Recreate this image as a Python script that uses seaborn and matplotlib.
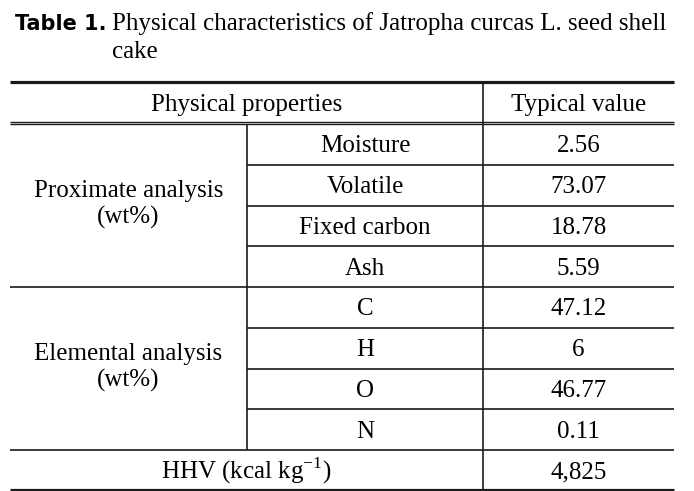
import matplotlib
matplotlib.use("Agg")
import matplotlib.pyplot as plt
import seaborn as sns

# table content
title_tag = "Table 1."
title_text = ["Physical characteristics of Jatropha curcas L. seed shell", "cake"]
header = ["Physical properties", "Typical value"]
groups = ["Proximate analysis\n(wt%)", "Elemental analysis\n(wt%)"]
items = [["Moisture", "Volatile", "Fixed carbon", "Ash"],
         ["C", "H", "O", "N"]]
values = [["2.56", "73.07", "18.78", "5.59"],
          ["47.12", "6", "46.77", "0.11"]]
hhv_label = r"HHV (kcal kg$^{\mathregular{-1}}$)"
hhv_value = "4,825"

sns.set_theme(style="white")
plt.rcParams['font.family'] = ['Liberation Serif', 'DejaVu Serif']
plt.rcParams['mathtext.fontset'] = 'custom'
plt.rcParams['mathtext.rm'] = 'Liberation Serif'
plt.rcParams['text.color'] = 'black'

fig = plt.figure(figsize=(6.94, 4.91), dpi=100)
ax = fig.add_axes([0, 0, 1, 1])
ax.set_xlim(0, 694)
ax.set_ylim(491, 0)
ax.axis('off')

# layout in pixel units
x0, x1, x2, x3 = 10, 247, 483, 674
top, head_bot = 82, 124
row_h = 40.75
fs = 18
dy = 2  # small downward nudge so glyphs sit like the original
lc = '#1a1a1a'

ax.text(15, 24, title_tag, fontsize=15, fontweight='bold', family='DejaVu Sans',
        va='center', ha='left', color='black')
ax.text(112, 22 + dy, title_text[0], fontsize=fs, va='center', ha='left', color='black')
ax.text(112, 50 + dy, title_text[1], fontsize=fs, va='center', ha='left', color='black')

# header
ax.hlines(top, x0, x3, color=lc, lw=2.3)
ax.hlines([head_bot - 2.5, head_bot], x0, x3, color=lc, lw=1.0)
ax.text((x0 + x2) / 2, (top + head_bot) / 2 + dy, header[0], fontsize=fs, ha='center', va='center')
ax.text((x2 + x3) / 2, (top + head_bot) / 2 + dy, header[1], fontsize=fs, ha='center', va='center')

row = 0
for g, (gname, gitems, gvals) in enumerate(zip(groups, items, values)):
    g_top = head_bot + row * row_h
    g_bot = g_top + len(gitems) * row_h
    ax.text((x0 + x1) / 2, (g_top + g_bot) / 2 - 1, gname, fontsize=fs, ha='center',
            va='center', linespacing=1.25)
    for i, (it, v) in enumerate(zip(gitems, gvals)):
        yc = head_bot + (row + 0.5) * row_h + dy
        ax.text((x1 + x2) / 2, yc, it, fontsize=fs, ha='center', va='center')
        ax.text((x2 + x3) / 2, yc, v, fontsize=fs, ha='center', va='center')
        row += 1
        yl = head_bot + row * row_h
        if i < len(gitems) - 1:
            ax.hlines(yl, x1, x3, color=lc, lw=1.2)
        else:
            ax.hlines(yl, x0, x3, color=lc, lw=1.2)

body_bot = head_bot + row * row_h
bottom = body_bot + row_h - 0.5
ax.vlines(x1, head_bot, body_bot, color=lc, lw=1.2)
ax.vlines(x2, top, bottom, color=lc, lw=1.2)
ax.text((x0 + x2) / 2, (body_bot + bottom) / 2 + dy - 1, hhv_label, fontsize=fs, ha='center', va='center')
ax.text((x2 + x3) / 2, (body_bot + bottom) / 2 + dy, hhv_value, fontsize=fs, ha='center', va='center')
ax.hlines(bottom, x0, x3, color=lc, lw=2.3)

fig.savefig("out.png", dpi=100)
